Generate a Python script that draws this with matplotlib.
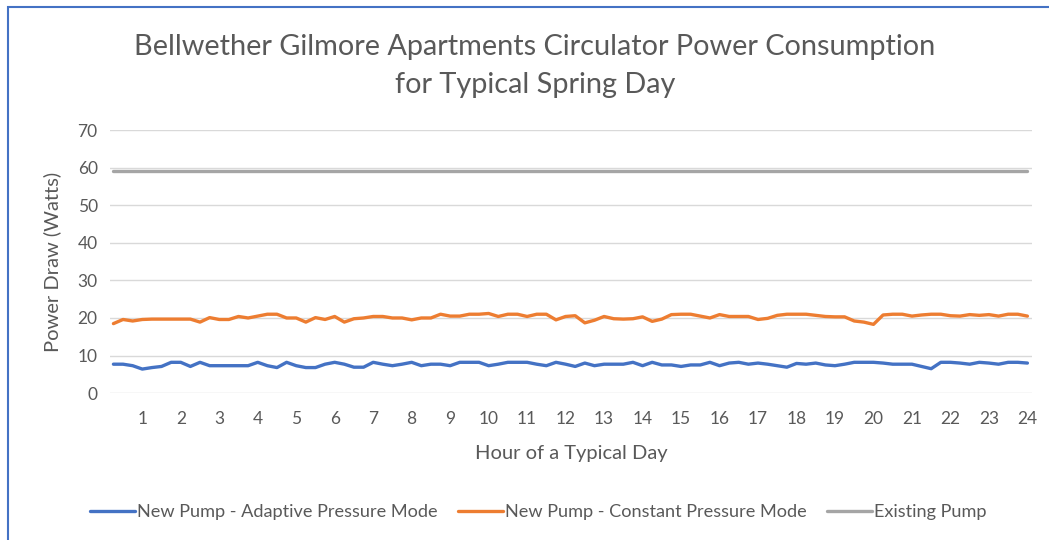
import numpy as np
import matplotlib.pyplot as plt
from matplotlib.patches import Rectangle

plt.rcParams['font.family'] = ['Lato', 'DejaVu Sans']

#  15-minute readings, hour 0.25 .. 24
hours = np.arange(1, 97) / 4

adaptive = [7.7, 7.7, 7.3, 6.4, 6.8, 7.1, 8.2, 8.2, 7.1, 8.2, 7.3, 7.3,
            7.3, 7.3, 7.3, 8.2, 7.3, 6.8, 8.2, 7.3, 6.8, 6.8, 7.7, 8.2,
            7.7, 6.9, 6.9, 8.2, 7.7, 7.3, 7.7, 8.2, 7.3, 7.7, 7.7, 7.3,
            8.2, 8.2, 8.2, 7.3, 7.7, 8.2, 8.2, 8.2, 7.7, 7.3, 8.2, 7.7,
            7.1, 8.0, 7.3, 7.7, 7.7, 7.7, 8.2, 7.3, 8.2, 7.5, 7.5, 7.1,
            7.5, 7.5, 8.2, 7.3, 8.0, 8.2, 7.7, 8.0, 7.7, 7.3, 6.9, 7.9,
            7.7, 8.0, 7.5, 7.3, 7.7, 8.2, 8.2, 8.2, 8.0, 7.7, 7.7, 7.7,
            7.1, 6.5, 8.2, 8.2, 8.0, 7.7, 8.2, 8.0, 7.7, 8.2, 8.2, 8.0]

constant = [18.5, 19.6, 19.2, 19.6, 19.7, 19.7, 19.7, 19.7, 19.7, 18.9, 20.1, 19.6,
            19.6, 20.4, 20.0, 20.5, 21.0, 21.0, 20.0, 20.0, 18.9, 20.1, 19.6, 20.4,
            18.9, 19.8, 20.0, 20.4, 20.4, 20.0, 20.0, 19.5, 20.0, 20.0, 21.0, 20.5,
            20.5, 21.0, 21.0, 21.2, 20.4, 21.0, 21.0, 20.4, 21.0, 21.0, 19.5, 20.4,
            20.6, 18.7, 19.4, 20.4, 19.8, 19.7, 19.8, 20.3, 19.1, 19.7, 20.9, 21.0,
            21.0, 20.5, 20.0, 20.9, 20.4, 20.4, 20.4, 19.6, 19.9, 20.7, 21.0, 21.0,
            21.0, 20.7, 20.4, 20.3, 20.3, 19.2, 18.9, 18.3, 20.8, 21.0, 21.0, 20.5,
            20.8, 21.0, 21.0, 20.6, 20.5, 20.9, 20.7, 20.9, 20.5, 21.0, 21.0, 20.5]

existing = [59] * 96

hour_ticks = list(range(1, 25))
y_ticks = [0, 10, 20, 30, 40, 50, 60, 70]

text_col = '#595959'

fig = plt.figure(figsize=(10.49, 5.40), dpi=100)
ax = fig.add_axes([0.105, 0.272, 0.879, 0.487])

ax.plot(hours, adaptive, color='#4472C4', lw=2.4, solid_capstyle='round',
        label='New Pump - Adaptive Pressure Mode')
ax.plot(hours, constant, color='#ED7D31', lw=2.4, solid_capstyle='round',
        label='New Pump - Constant Pressure Mode')
ax.plot(hours, existing, color='#A5A5A5', lw=2.4, solid_capstyle='round',
        label='Existing Pump')

ax.set_xlim(0.165, 24.125)
ax.set_ylim(0, 70)
ax.set_xticks(hour_ticks)
ax.set_yticks(y_ticks)
ax.grid(axis='y', color='#D9D9D9', lw=1)
ax.set_axisbelow(True)
for s in ax.spines.values():
    s.set_visible(False)
ax.tick_params(length=0, labelsize=12.5, colors=text_col, pad=9)
ax.tick_params(axis='x', pad=13)

ax.set_xlabel('Hour of a Typical Day', fontsize=14.5, color=text_col, labelpad=13)
ax.set_ylabel('Power Draw (Watts)', fontsize=14.5, color=text_col, labelpad=12)

fig.text(0.51, 0.913, 'Bellwether Gilmore Apartments Circulator Power Consumption',
         ha='center', va='center', fontsize=20.8, color=text_col)
fig.text(0.51, 0.843, 'for Typical Spring Day',
         ha='center', va='center', fontsize=20.8, color=text_col)

fig.legend(loc='center', bbox_to_anchor=(0.513, 0.052), ncol=3, frameon=False,
           fontsize=13.1, labelcolor=text_col, handlelength=2.5, handletextpad=0.1,
           columnspacing=1.1)

fig.patches.append(Rectangle((8 / 1049, -0.1), 1.2, 1.1 - 7 / 540,
                             transform=fig.transFigure, fill=False,
                             edgecolor='#4472C4', lw=1.5))

fig.savefig('out.png', dpi=100)
